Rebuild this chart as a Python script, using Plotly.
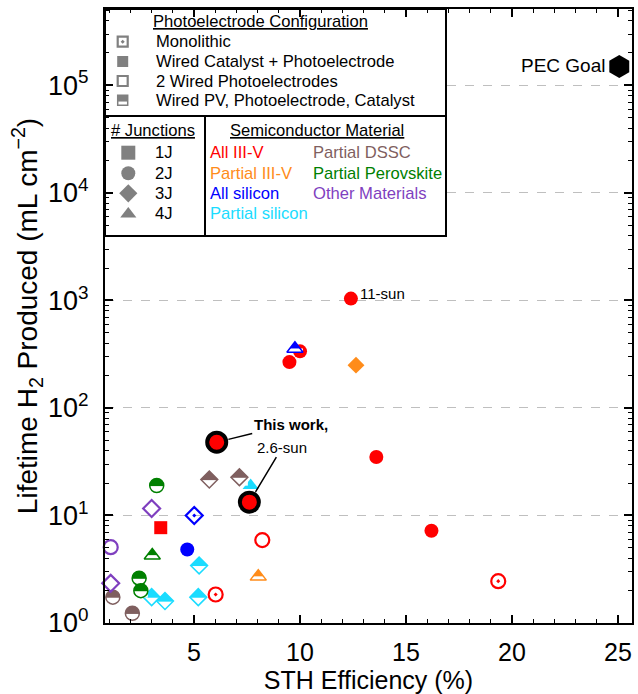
import numpy as np
import plotly.graph_objects as go

# ---------------- data ----------------
sth_eff = [12.4, 10.0, 9.5, 9.76, 12.64, 13.6, 16.2, 19.35, 6.02, 8.22,
           3.43, 8.03, 5.01, 4.68, 7.67, 5.24, 3.0, 3.63, 5.2, 5.72,
           7.14, 1.17, 2.09, 3.24, 2.41, 2.49, 3.03, 3.0, 1.07, 1.07]
h2_produced = [1040, 336, 267, 355, 250, 35, 7.2, 2.45, 1.84, 5.9,
               7.7, 2.7, 10.0, 4.83, 19.0, 3.43, 1.74, 1.6, 1.74, 21.6,
               22.7, 1.74, 1.23, 19.0, 2.61, 2.0, 4.25, 11.6, 2.34, 5.07]
n_junctions = [2, 2, 2, 4, 3, 2, 2, 2, 2, 2,
               1, 4, 3, 2, 4, 3, 3, 3, 3, 3,
               3, 2, 2, 2, 2, 2, 4, 3, 3, 2]
# MO = Monolithic, WC = Wired Catalyst + Photoelectrode,
# W2 = 2 Wired Photoelectrodes, PV = Wired PV, Photoelectrode, Catalyst
configuration = ["WC", "WC", "WC", "PV", "WC", "WC", "WC", "MO", "MO", "W2",
                 "WC", "PV", "MO", "WC", "WC", "PV", "PV", "PV", "PV", "PV",
                 "PV", "PV", "PV", "PV", "PV", "PV", "PV", "W2", "W2", "W2"]
material = ["III-V", "III-V", "III-V", "Si", "pIII-V", "III-V", "III-V", "III-V", "III-V", "III-V",
            "III-V", "pIII-V", "Si", "Si", "pSi", "pSi", "pSi", "pSi", "pSi", "DSSC",
            "DSSC", "DSSC", "DSSC", "Perov", "Perov", "Perov", "Perov", "Other", "Other", "Other"]

this_work_sth = [6.07, 7.61]
this_work_h2 = [48.0, 13.3]
this_work_text = ["<b>This work,</b>", "2.6-sun"]

pec_goal_sth = [25.06]
pec_goal_h2 = [1.5e5]

eleven_sun_index = 0

x_tick_step = 5
y_tick_vals = [1, 10, 100, 1000, 1e4, 1e5]
y_tick_text = ["10<sup>0</sup>", "10<sup>1</sup>", "10<sup>2</sup>",
               "10<sup>3</sup>", "10<sup>4</sup>", "10<sup>5</sup>"]
y_minor_vals = [m * 10 ** k for k in range(0, 6) for m in range(2, 10)]

config_labels = [("MO", "Monolithic"), ("WC", "Wired Catalyst + Photoelectrode"),
                 ("W2", "2 Wired Photoelectrodes"), ("PV", "Wired PV, Photoelectrode, Catalyst")]
junction_labels = [(1, "1J"), (2, "2J"), (3, "3J"), (4, "4J")]
material_col1 = [("All III-V", "III-V"), ("Partial III-V", "pIII-V"),
                 ("All silicon", "Si"), ("Partial silicon", "pSi")]
material_col2 = [("Partial DSSC", "DSSC"), ("Partial Perovskite", "Perov"),
                 ("Other Materials", "Other")]

# ---------------- styles ----------------
FONT = "Arial, Liberation Sans, sans-serif"
COLORS = {"III-V": "#FF0000", "pIII-V": "#FF8C1A", "Si": "#0000FF", "pSi": "#1ADCFF",
          "DSSC": "#7F5F5F", "Perov": "#008000", "Other": "#7F3FBF"}
GREY = "#808080"
SYM = {1: "square", 2: "circle", 3: "diamond", 4: "triangle-up"}
SIZE = {1: 13, 2: 14, 3: 13, 4: 14}
LEG_FONT = 16.6

fig = go.Figure()


def add_marker(x, y, sym, size, cfg, col, xa="x", ya="y"):
    common = dict(mode="markers", hoverinfo="skip", showlegend=False, xaxis=xa, yaxis=ya,
                  cliponaxis=False)
    if cfg == "WC":
        fig.add_trace(go.Scatter(x=[x], y=[y], marker=dict(symbol=sym, size=size, color=col,
                                                           line=dict(width=0)), **common))
    elif cfg == "MO":
        fig.add_trace(go.Scatter(x=[x], y=[y], marker=dict(symbol=sym + "-open-dot", size=size,
                                                           color=col, line=dict(width=2.2, color=col)),
                                 **common))
    elif cfg == "W2":
        fig.add_trace(go.Scatter(x=[x], y=[y], marker=dict(symbol=sym + "-open", size=size,
                                                           color=col, line=dict(width=2.2, color=col)),
                                 **common))
    else:  # half filled (top filled, lower part white)
        r = size / 2.0
        if sym == "circle":
            top, bot, half = 0.6, r, r
        elif sym == "square":
            top, bot, half = 0.25 * r, r, r
        elif sym == "diamond":
            top, bot, half = 0.6, 1.3 * r, 1.3 * r
        else:
            top, bot, half = -0.3, r / 2.0, r * 2 / np.sqrt(3)
        fig.add_trace(go.Scatter(x=[x], y=[y], marker=dict(symbol=sym, size=size, color=col,
                                                           line=dict(width=0)), **common))
        fig.add_trace(go.Scatter(x=[x], y=[y], marker=dict(symbol="line-ew", size=2 * half / 1.4,
                                                           angle=0, standoff=(top + bot) / 2.0,
                                                           color="white",
                                                           line=dict(width=bot - top, color="white")),
                                 **common))
        fig.add_trace(go.Scatter(x=[x], y=[y], marker=dict(symbol=sym + "-open", size=size,
                                                           color=col, line=dict(width=1.5, color=col)),
                                 **common))


# data points
for i in range(len(sth_eff)):
    j = n_junctions[i]
    add_marker(sth_eff[i], h2_produced[i], SYM[j], SIZE[j], configuration[i], COLORS[material[i]])

# this work
fig.add_trace(go.Scatter(x=this_work_sth, y=this_work_h2, mode="markers", hoverinfo="skip",
                         cliponaxis=False,
                         marker=dict(symbol="circle", size=19, color="#FF0000",
                                     line=dict(width=4, color="black"))))
# PEC goal
fig.add_trace(go.Scatter(x=pec_goal_sth, y=pec_goal_h2, mode="markers", hoverinfo="skip",
                         cliponaxis=False,
                         marker=dict(symbol="hexagon", size=23, color="black", line=dict(width=0))))

# ---------------- legend box (overlay axes 0..1 on plot area) ----------------
L, R, T, B = 105, 632, 9, 623
PW, PH = R - L, B - T


def px(xp):
    return (xp - L) / PW


def py(yp):
    return 1 - (yp - T) / PH


box_r, box_b, div_y, div_x = 446, 236, 116, 205
fig.add_trace(go.Scatter(x=[0, px(box_r), px(box_r), 0], y=[py(box_b), py(box_b), 1, 1],
                         fill="toself", fillcolor="white", mode="lines", line=dict(width=0),
                         hoverinfo="skip", xaxis="x2", yaxis="y2"))

annotations = []


def ltext(x, y, text, color="black", size=LEG_FONT):
    annotations.append(dict(x=px(x), y=py(y), xref="paper", yref="paper", text=text,
                            showarrow=False, xanchor="left", yanchor="middle",
                            font=dict(size=size, color=color, family=FONT)))


ltext(151, 21.7, "<u>Photoelectrode Configuration</u>")
rows1 = [41.7, 61.5, 81.0, 100.3]
for (cfg, lab), yy in zip(config_labels, rows1):
    add_marker(px(122.7), py(yy), "square", 10 if cfg != "WC" else 11, cfg, GREY, "x2", "y2")
    ltext(153.5, yy, lab)

ltext(109, 130.7, "<u># Junctions</u>")
ltext(228, 130.7, "<u>Semiconductor Material</u>")
rows2 = [152.7, 173.3, 193.3, 214.0]
for (j, lab), yy in zip(junction_labels, rows2):
    add_marker(px(128.3), py(yy), SYM[j], 14, "WC", GREY, "x2", "y2")
    ltext(153.3, yy, lab)
for (lab, m), yy in zip(material_col1, rows2):
    ltext(207.5, yy, lab, COLORS[m])
for (lab, m), yy in zip(material_col2, rows2):
    ltext(311, yy, lab, COLORS[m])

shapes = [
    dict(type="rect", xref="paper", yref="paper", x0=0, x1=px(box_r), y0=py(box_b), y1=1,
         line=dict(color="black", width=2), layer="above"),
    dict(type="line", xref="paper", yref="paper", x0=0, x1=px(box_r), y0=py(div_y), y1=py(div_y),
         line=dict(color="black", width=2), layer="above"),
    dict(type="line", xref="paper", yref="paper", x0=px(div_x), x1=px(div_x), y0=py(box_b),
         y1=py(div_y), line=dict(color="black", width=2), layer="above"),
]

# ---------------- data annotations ----------------
annotations.append(dict(x=sth_eff[eleven_sun_index], y=np.log10(h2_produced[eleven_sun_index]),
                        xref="x", yref="y", text="11-sun", showarrow=False, xanchor="left",
                        yanchor="middle", xshift=7, yshift=5, font=dict(size=15, family=FONT)))
annotations.append(dict(x=pec_goal_sth[0], y=np.log10(pec_goal_h2[0]), xref="x", yref="y",
                        text="PEC Goal", showarrow=False, xanchor="right", yanchor="middle",
                        xshift=-12, yshift=1, font=dict(size=19, family=FONT)))
annotations.append(dict(x=this_work_sth[0], y=np.log10(this_work_h2[0]), xref="x", yref="y",
                        text=this_work_text[0], showarrow=True, arrowhead=0, arrowwidth=1.5,
                        arrowcolor="black", ax=74, ay=-18, standoff=12,
                        font=dict(size=15, family=FONT)))
annotations.append(dict(x=this_work_sth[1], y=np.log10(this_work_h2[1]), xref="x", yref="y",
                        text=this_work_text[1], showarrow=True, arrowhead=0, arrowwidth=1.5,
                        arrowcolor="black", ax=33, ay=-55, standoff=12,
                        font=dict(size=15, family=FONT)))

fig.update_layout(
    width=638, height=694,
    margin=dict(l=L, r=638 - R, t=T, b=694 - B, autoexpand=False),
    plot_bgcolor="white", paper_bgcolor="white",
    showlegend=False,
    font=dict(family=FONT, color="black"),
    annotations=annotations,
    shapes=shapes,
    xaxis=dict(range=[0.8, 25.66], tickmode="linear", tick0=0, dtick=x_tick_step,
               ticks="inside", ticklen=8, tickwidth=1.5, tickcolor="black",
               showline=True, linewidth=2, linecolor="black", mirror="allticks",
               showgrid=False, zeroline=False, tickfont=dict(size=25), automargin=False,
               ticklabelstandoff=6,
               title=dict(text="STH Efficiency (%)", font=dict(size=25), standoff=6),
               minor=dict(tickmode="linear", tick0=0, dtick=1, ticks="inside", ticklen=4,
                          tickwidth=1, tickcolor="black", showgrid=False)),
    yaxis=dict(type="log", range=[0, 5.71], tickmode="array", tickvals=y_tick_vals,
               ticktext=y_tick_text, ticks="inside", ticklen=8, tickwidth=1.5,
               tickcolor="black", showline=True, linewidth=2, linecolor="black",
               mirror="allticks", showgrid=True, gridcolor="#BFBFBF", griddash="dash",
               gridwidth=1, zeroline=False, tickfont=dict(size=27), automargin=False,
               ticklabelstandoff=9,
               title=dict(text="Lifetime H<sub>2</sub> Produced (mL cm<sup>\u22122</sup>)",
                          font=dict(size=28), standoff=2),
               minor=dict(tickmode="array", tickvals=y_minor_vals, ticks="inside", ticklen=4,
                          tickwidth=1, tickcolor="black", showgrid=False)),
    xaxis2=dict(range=[0, 1], overlaying="x", visible=False, fixedrange=True),
    yaxis2=dict(range=[0, 1], overlaying="y", visible=False, fixedrange=True),
)

fig.write_html("out.html", config={"displayModeBar": False},
               post_script="document.body.style.margin='0';")
